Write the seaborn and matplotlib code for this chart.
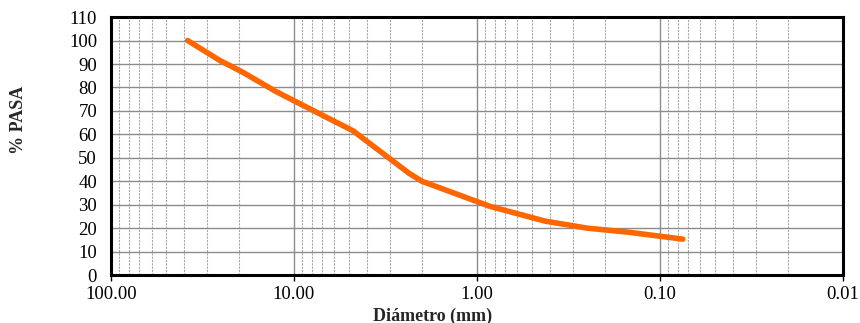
import matplotlib
matplotlib.use("Agg")
import matplotlib.pyplot as plt
import matplotlib.ticker as mticker
import seaborn as sns
import pandas as pd

# sieve openings (mm) and percent passing
diametro = [38.1, 25.4, 19.05, 12.7, 9.525, 6.35, 4.75, 2.36, 2.0, 0.85, 0.425, 0.25, 0.15, 0.075]
pasa = [100, 91.5, 86.5, 78.5, 73.5, 66.5, 61.5, 43.5, 40.0, 29.3, 23.0, 20.0, 18.3, 15.3]
xticks = [100, 10, 1, 0.1, 0.01]
yticks = list(range(0, 111, 10))

df = pd.DataFrame({'Diametro': diametro, 'Pasa': pasa})

sns.set_style("white")
plt.rcParams['font.family'] = ['Liberation Serif', 'DejaVu Serif']

fig = plt.figure(figsize=(8.6, 3.23), dpi=100)
ax = fig.add_axes([0.129, 0.1486, 0.851, 0.7984])

sns.lineplot(data=df, x='Diametro', y='Pasa', ax=ax, color='#FF6600',
             linewidth=4.0, solid_capstyle='round', solid_joinstyle='round',
             sort=False, zorder=3)

ax.set_xscale('log')
ax.set_xlim(100, 0.01)
ax.set_ylim(0, 110)
ax.set_yticks(yticks)
ax.set_xticks(xticks)
ax.xaxis.set_major_formatter(mticker.FuncFormatter(lambda v, p: f"{v:.2f}"))
ax.xaxis.set_minor_locator(mticker.LogLocator(base=10, subs=range(2, 10)))
ax.xaxis.set_minor_formatter(mticker.NullFormatter())

ax.grid(True, which='major', axis='both', color='#8c8c8c', linewidth=1.0, linestyle='-')
ax.grid(True, which='minor', axis='x', color='#a8a8a8', linewidth=0.8, linestyle=(0, (2, 1)))

for s in ax.spines.values():
    s.set_color('black')
    s.set_linewidth(2.2)

ax.tick_params(axis='both', which='major', labelsize=13.5, length=4, width=1,
               direction='out', colors='black', bottom=True, left=False, pad=4)
ax.tick_params(axis='x', which='minor', length=0)
ax.tick_params(axis='y', pad=6)

ax.set_xlabel('Diámetro (mm)', fontsize=13, fontweight='bold')
ax.set_ylabel('% PASA', fontsize=13, fontweight='bold')
ax.xaxis.set_label_coords((433 - 111) / 732, -(316 - 275) / 258, transform=ax.transAxes)
ax.yaxis.set_label_coords(-(111 - 19) / 732, (275 - 120) / 258, transform=ax.transAxes)
ax.xaxis.label.set_va('center')
ax.yaxis.label.set_va('center')

fig.savefig('out.png', dpi=100)
